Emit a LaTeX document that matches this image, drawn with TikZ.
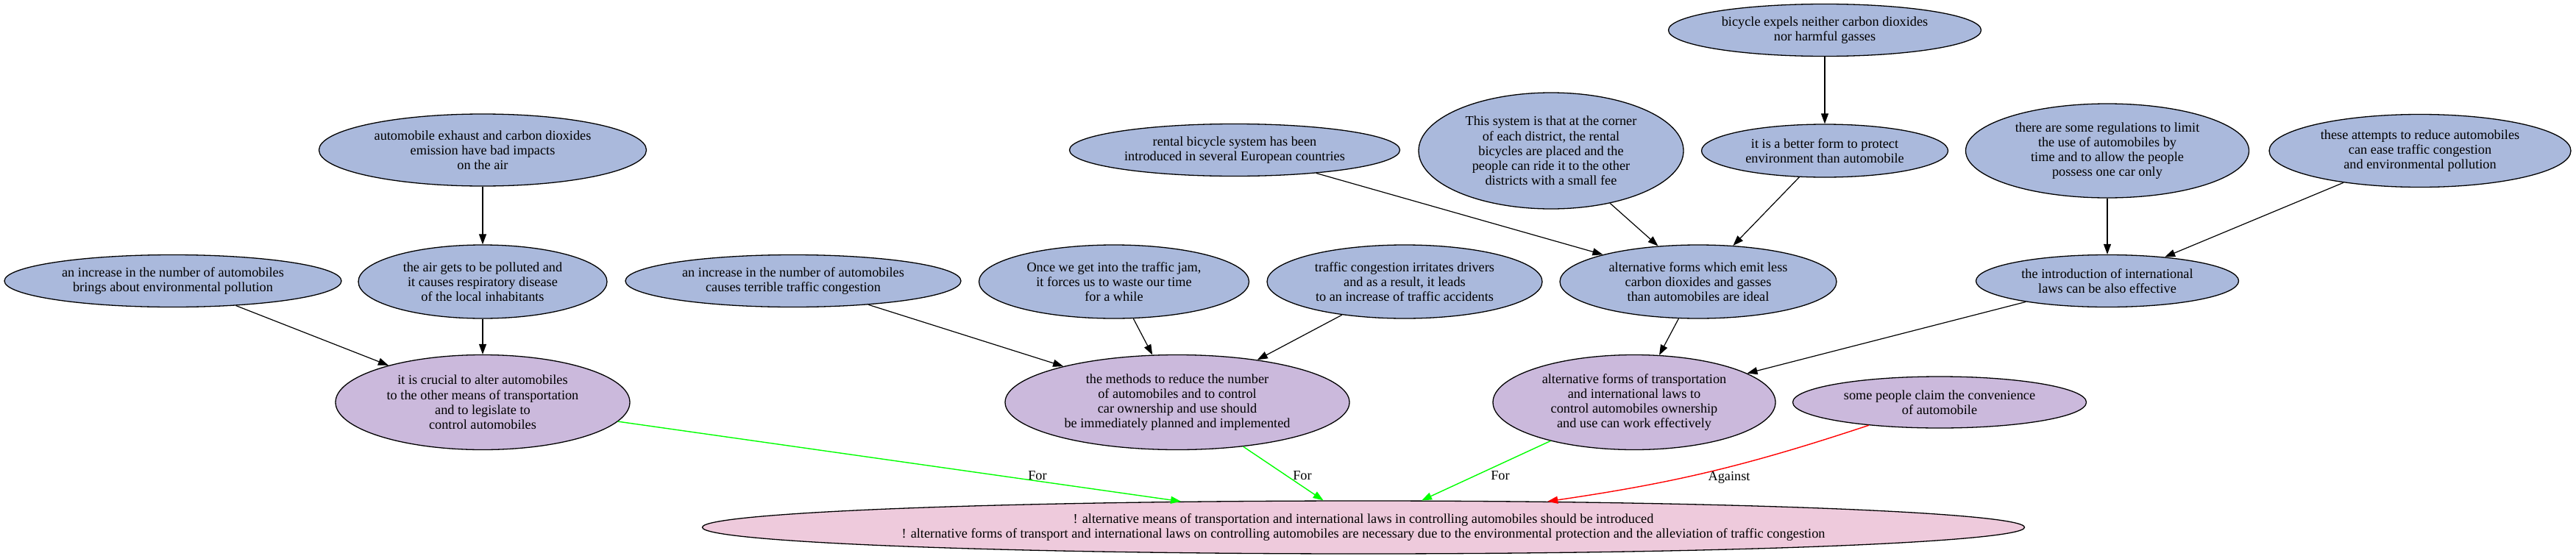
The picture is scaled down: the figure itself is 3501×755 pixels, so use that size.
\documentclass[tikz,border=0pt]{standalone}
\usepackage{fontspec}
\setmainfont{Liberation Serif}
\usetikzlibrary{shapes.geometric,arrows.meta}
\definecolor{nblue}{HTML}{AAB9DC}
\definecolor{npurple}{HTML}{CBB9DC}
\definecolor{npink}{HTML}{EECADC}
\definecolor{egreen}{HTML}{00FF00}
\definecolor{ered}{HTML}{FF0000}
\tikzset{
  base/.style={ellipse,draw=black,line width=1.3pt,inner sep=0pt,align=center,
    font=\fontsize{18.3}{20.2}\selectfont},
  prem/.style={base,fill=nblue},
  claim/.style={base,fill=npurple},
  goal/.style={base,fill=npink},
  sz/.style 2 args={minimum width=#1pt,minimum height=#2pt},
  link/.style={line width=1.2pt,-{Triangle[length=14pt,width=10pt]}},
  pro/.style={link,draw=egreen,line width=1.4pt},
  con/.style={link,draw=ered,line width=1.4pt},
  elabel/.style={font=\fontsize{18.3}{20.2}\selectfont,inner sep=0pt},
}
\begin{document}
\begin{tikzpicture}[x=1pt,y=-1pt]
\useasboundingbox (0,0) rectangle (3501,755);
% row 1
\node[prem,sz={425}{71}] (e1) at (2480,41) {bicycle expels neither carbon dioxides\\nor harmful gasses};
% row 2
\node[prem,sz={445}{98}] (a1) at (656,204) {automobile exhaust and carbon dioxides\\emission have bad impacts\\on the air};
\node[prem,sz={449}{71}] (d1) at (1678,204) {rental bicycle system has been\\introduced in several European countries};
\node[prem,sz={360}{158}] (d2) at (2108,205) {This system is that at the corner\\of each district, the rental\\bicycles are placed and the\\people can ride it to the other\\districts with a small fee};
\node[prem,sz={335}{72}] (e2) at (2480,205) {it is a better form to protect\\environment than automobile};
\node[prem,sz={385}{128}] (f1) at (2864,205) {there are some regulations to limit\\the use of automobiles by\\time and to allow the people\\possess one car only};
\node[prem,sz={410}{99}] (f2) at (3289,205) {these attempts to reduce automobiles\\can ease traffic congestion\\and environmental pollution};
% row 3
\node[prem,sz={458}{71}] (a3) at (235,382) {an increase in the number of automobiles\\brings about environmental pollution};
\node[prem,sz={338}{100}] (a2) at (656,383) {the air gets to be polluted and\\it causes respiratory disease\\of the local inhabitants};
\node[prem,sz={456}{71}] (b1) at (1078,382) {an increase in the number of automobiles\\causes terrible traffic congestion};
\node[prem,sz={367}{100}] (b2) at (1514,383) {Once we get into the traffic jam,\\it forces us to waste our time\\for a while};
\node[prem,sz={374}{100}] (b3) at (1909,383) {traffic congestion irritates drivers\\and as a result, it leads\\to an increase of traffic accidents};
\node[prem,sz={376}{100}] (d3) at (2308,383) {alternative forms which emit less\\carbon dioxides and gasses\\than automobiles are ideal};
\node[prem,sz={357}{71}] (f3) at (2864,382) {the introduction of international\\laws can be also effective};
% row 4
\node[claim,sz={400}{129}] (c1) at (656,547) {it is crucial to alter automobiles\\to the other means of transportation\\and to legislate to\\control automobiles};
\node[claim,sz={468}{129}] (c2) at (1600,547) {the methods to reduce the number\\of automobiles and to control\\car ownership and use should\\be immediately planned and implemented};
\node[claim,sz={384}{129}] (c3) at (2221,547) {alternative forms of transportation\\and international laws to\\control automobiles ownership\\and use can work effectively};
\node[claim,sz={399}{70}] (c4) at (2636,547) {some people claim the convenience\\of automobile};
% goal
\node[goal,sz={1797}{72}] (g) at (1853,717) {! alternative means of transportation and international laws in controlling automobiles should be introduced\\! alternative forms of transport and international laws on controlling automobiles are necessary due to the environmental protection and the alleviation of traffic congestion};
% black edges
\draw[link] (a1) -- (a2);
\draw[link] (a2) -- (c1);
\draw[link] (a3) -- (c1);
\draw[link] (b1) -- (c2);
\draw[link] (b2) -- (c2);
\draw[link] (b3) -- (c2);
\draw[link] (d1) -- (d3);
\draw[link] (d2) -- (d3);
\draw[link] (e1) -- (e2);
\draw[link] (e2) -- (d3);
\draw[link] (d3) -- (c3);
\draw[link] (f1) -- (f3);
\draw[link] (f2) -- (f3);
\draw[link] (f3) -- (c3);
% argument edges
\draw[pro] (c1) -- (g);
\draw[pro] (c2) -- (g);
\draw[pro] (c3) -- (g);
\draw[con] (c4.198.8) to[bend left=5] (g.8.9);
% labels
\node[elabel] (l1) at (1410,647) {For};
\node[elabel] (l2) at (1770,647) {For};
\node[elabel] (l3) at (2039,647) {For};
\node[elabel] (l4) at (2350,649) {Against};
\end{tikzpicture}
\end{document}
